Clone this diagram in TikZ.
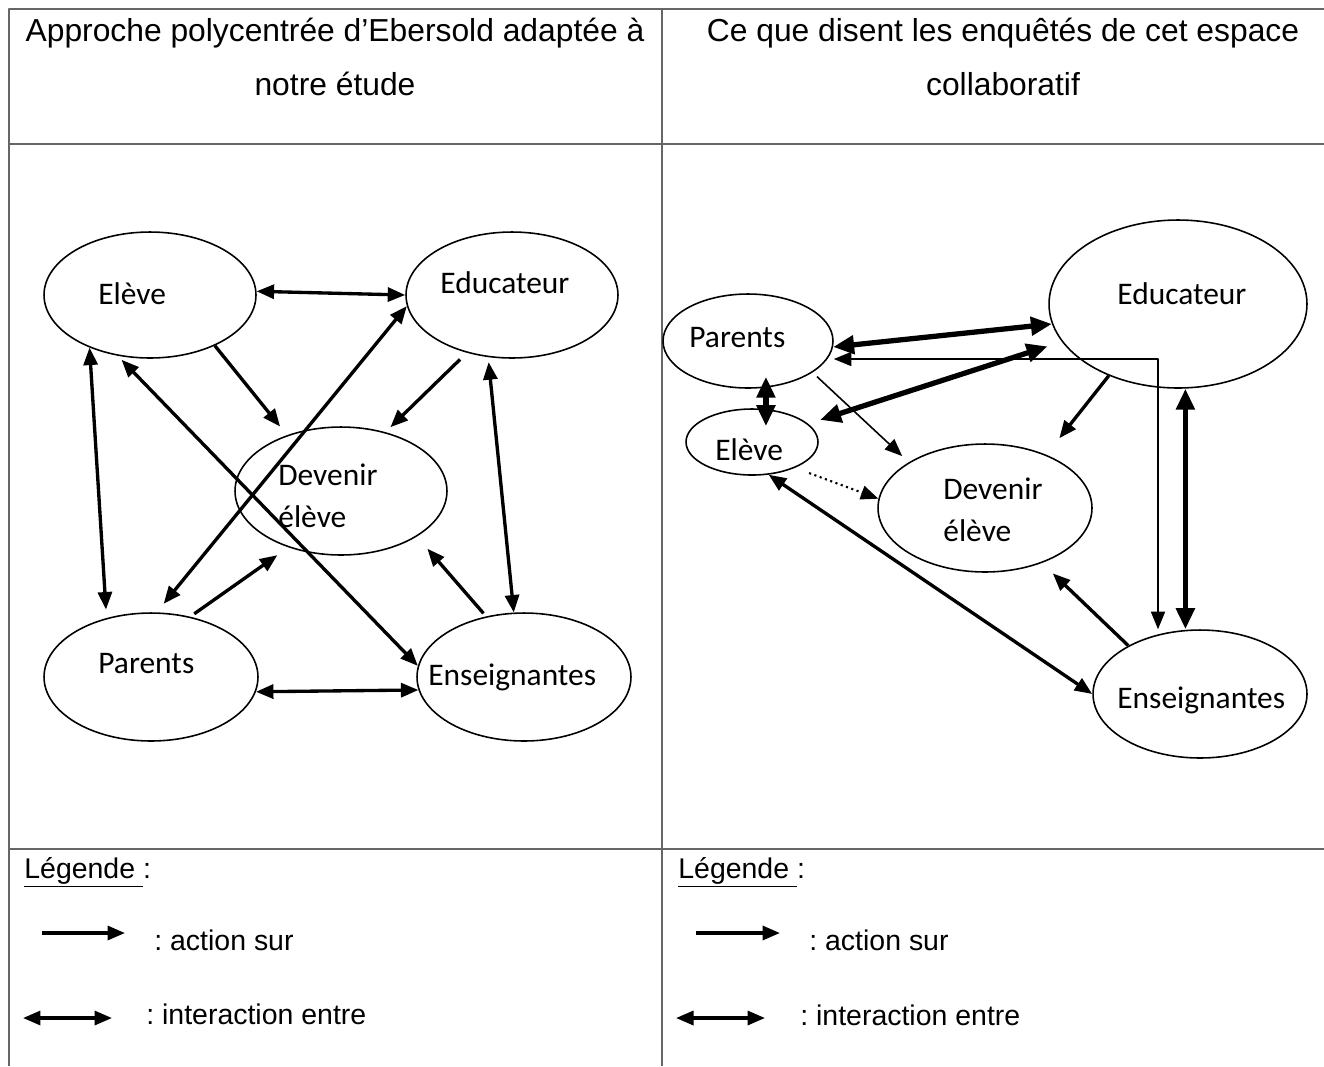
\documentclass[tikz,border=0pt]{standalone}
\usepackage{fontspec}
\setmainfont{Liberation Sans}
\newfontfamily\calibri{Carlito}
\usetikzlibrary{shapes.geometric,arrows.meta}

\begin{document}
\begin{tikzpicture}[x=0.02cm,y=-0.02cm,line join=round,
	tri/.tip={Triangle[length=0.35cm,width=0.28cm]},
	grostri/.tip={Triangle[length=0.42cm,width=0.36cm]},
	grille/.style={draw=black!60,line width=1.1pt},
	bulle/.style 2 args={ellipse,draw,line width=0.9pt,inner sep=0pt,minimum width=#1,minimum height=#2},
	mot/.style={anchor=base west,inner sep=0pt,align=left,font=\calibri\fontsize{17.9}{23.6}\selectfont},
	titre/.style={anchor=base,inner sep=0pt,align=center,font=\fontsize{18.1}{30.7}\selectfont},
	texte/.style={anchor=base west,inner sep=0pt,font=\frenchspacing\fontsize{16.2}{20}\selectfont},
	fl/.style={line width=1.9pt},
	mfl/.style={line width=0.9pt},
	gfl/.style={line width=3pt},
	pfl/.style={line width=1.2pt,dotted}]
	\useasboundingbox (0,0) rectangle (1324,1066);
	% === Tableau ===
	\draw[grille] (9,1066) -- (9,9) -- (1324,9);
	\draw[grille] (662,9) -- (662,1066);
	\draw[grille] (9,144) -- (1324,144);
	\draw[grille] (9,849) -- (1324,849);
	\node[titre] (titreg) at (335,95) {Approche polycentrée d’Ebersold adaptée à\\notre étude};
	\node[titre] (titred) at (1003,95) {Ce que disent les enquêtés de cet espace\\collaboratif};
	
	% === Schéma de gauche ===
	\node[bulle={4.24cm}{2.52cm}] (lel) at (150,295) {};
	\node[bulle={4.24cm}{2.52cm}] (led) at (512,295) {};
	\node[bulle={4.24cm}{2.56cm}] (ldv) at (341,491) {};
	\node[bulle={4.28cm}{2.56cm}] (lpa) at (151,677) {};
	\node[bulle={4.28cm}{2.56cm}] (len) at (524,677) {};
	\node[mot] (lel-t) at (98,304) {Elève};
	\node[mot] (led-t) at (440,293) {Educateur};
	\node[mot] (ldv-t) at (278,527) {Devenir\\élève};
	\node[mot] (lpa-t) at (98,673) {Parents};
	\node[mot] (len-t) at (428,685) {Enseignantes};
	\draw[fl,tri-tri] (lel.2) -- (led.180);
	\draw[fl,-tri,shorten >=0.22cm] (lel.-38) -- (ldv.134);
	\draw[fl,-tri,shorten <=0.19cm,shorten >=0.14cm] (led.232) -- (ldv.53);
	\draw[fl,tri-tri,shorten <=0.22cm] (lpa.85) -- (led.186);
	\draw[fl,tri-tri,shorten <=0.11cm] (lel.242) -- (len.174);
	\draw[fl,tri-tri,shorten >=0.17cm] (lel.221) -- (lpa.127);
	\draw[fl,tri-tri,shorten <=0.1cm] (led.249) -- (len.99);
	\draw[fl,-tri,shorten <=0.1cm,shorten >=0.27cm] (lpa.57) -- (ldv.227);
	\draw[fl,-tri,shorten <=0.08cm,shorten >=0.32cm] (len.122) -- (ldv.-31);
	\draw[fl,tri-tri] (lpa.-8) -- (len.187);
	
	% === Schéma de droite ===
	\node[bulle={3.4cm}{1.88cm}] (rpa) at (748,341) {};
	\node[bulle={5.16cm}{3.36cm}] (red) at (1178,304) {};
	\node[bulle={2.64cm}{1.32cm}] (rel) at (752,442) {};
	\node[bulle={4.28cm}{2.56cm}] (rdv) at (985,508) {};
	\node[bulle={4.28cm}{2.56cm}] (ren) at (1200,694) {};
	\node[mot] (rpa-t) at (689,347) {Parents};
	\node[mot] (red-t) at (1117,304) {Educateur};
	\node[mot] (rel-t) at (715,460) {Elève};
	\node[mot] (rdv-t) at (943,541) {Devenir\\élève};
	\node[mot] (ren-t) at (1117,708) {Enseignantes};
	\coordinate (coude) at (1158,359);
	\draw[gfl,grostri-grostri] (rpa.-4) -- (red.189);
	\draw[mfl,tri-tri] (coude -| rpa.east) -- (coude) -- (coude |- ren.north);
	\draw[gfl,grostri-grostri,shorten <=0.25cm,shorten >=0.3cm] (rel.18) -- (red.198);
	\draw[gfl,grostri-grostri,shorten <=-0.22cm,shorten >=-0.36cm] (rpa.-69) -- (rpa.-69 |- rel.north);
	\draw[mfl,-tri,shorten <=0.12cm,shorten >=0.18cm] (rpa.-26) -- (rdv.149);
	\draw[fl,-tri,shorten >=0.42cm] (red.226) -- (rdv.41);
	\draw[pfl,-tri,shorten <=0.3cm] (rel.-31) -- (rdv.175);
	\draw[fl,tri-tri] (rel.-63) -- (ren.west);
	\draw[fl,-tri,shorten >=0.3cm] (ren.146) -- (rdv.-44);
	\draw[gfl,grostri-grostri] (red.-85) -- (red.-85 |- ren.north);
	
	% === Légendes ===
	\node[texte] (leg-g) at (24,878) {\underline{Légende }:};
	\node[texte] (act-g) at (154,950) {: action sur};
	\node[texte] (int-g) at (146,1024) {: interaction entre};
	\coordinate (fa-g) at (42,933);
	\coordinate (fi-g) at (23,1018);
	\draw[fl,-tri] (fa-g) -- ++(83,0);
	\draw[fl,tri-tri] (fi-g) -- ++(89,0);
	\node[texte] (leg-d) at (678,878) {\underline{Légende }:};
	\node[texte] (act-d) at (809,950) {: action sur};
	\node[texte] (int-d) at (800,1025) {: interaction entre};
	\coordinate (fa-d) at (696,933);
	\coordinate (fi-d) at (676,1018);
	\draw[fl,-tri] (fa-d) -- ++(84,0);
	\draw[fl,tri-tri] (fi-d) -- ++(89,0);
\end{tikzpicture}
\end{document}
